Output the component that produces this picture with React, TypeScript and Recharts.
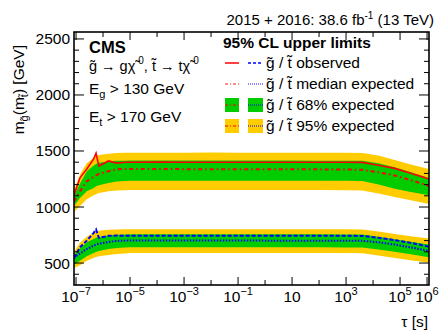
import React from "react";
import { ComposedChart, Area, Line, XAxis, YAxis } from "recharts";

// lifetime grid [s]
const tau = [
  8.4e-8, 1.4e-7, 2.5e-7, 4.5e-7, 5.5e-7, 7e-7, 1.6e-6, 3.2e-6, 6.3e-6, 1e-5,
  1e-4, 1e-3, 1e-2, 0.1, 1, 10, 100, 1000, 4000, 1.6e4, 6.3e4, 2.5e5, 1.18e6,
];

// gluino limits [GeV]
const gluinoObs = [
  1107, 1260, 1340, 1430, 1480, 1366, 1411, 1392, 1400, 1400,
  1401, 1399, 1400, 1400, 1400, 1399, 1400, 1400, 1398, 1372, 1345, 1302, 1250,
];
const gluinoExp = [
  1050, 1140, 1230, 1270, 1282, 1295, 1320, 1337, 1340, 1340,
  1339, 1338, 1338, 1337, 1337, 1336, 1336, 1335, 1332, 1310, 1282, 1240, 1188,
];
const gluinoLo68 = [
  1010, 1080, 1140, 1170, 1185, 1195, 1215, 1228, 1233, 1235,
  1235, 1235, 1235, 1235, 1235, 1234, 1234, 1234, 1232, 1200, 1162, 1135, 1105,
];
const gluinoHi68 = [
  1100, 1210, 1320, 1370, 1385, 1395, 1408, 1412, 1414, 1415,
  1415, 1415, 1415, 1415, 1415, 1415, 1414, 1414, 1412, 1390, 1355, 1310, 1260,
];
const gluinoLo95 = [
  955, 1010, 1070, 1105, 1115, 1125, 1140, 1148, 1150, 1152,
  1152, 1152, 1152, 1152, 1152, 1151, 1151, 1150, 1148, 1120, 1090, 1060, 1027,
];
const gluinoHi95 = [
  1150, 1290, 1390, 1440, 1455, 1465, 1475, 1482, 1484, 1485,
  1485, 1485, 1486, 1485, 1485, 1485, 1485, 1484, 1482, 1460, 1420, 1380, 1340,
];

// stop limits [GeV]
const stopObs = [
  547, 640, 700, 770, 800, 725, 743, 745, 744, 744,
  744, 743, 744, 744, 744, 744, 743, 743, 742, 725, 705, 680, 646,
];
const stopExp = [
  545, 585, 625, 655, 665, 672, 688, 697, 700, 701,
  701, 701, 701, 701, 700, 700, 700, 700, 699, 685, 665, 640, 607,
];
const stopLo68 = [
  482, 520, 560, 590, 598, 607, 625, 635, 638, 640,
  640, 640, 640, 640, 640, 640, 640, 639, 638, 620, 600, 578, 551,
];
const stopHi68 = [
  571, 630, 685, 715, 725, 733, 748, 753, 755, 756,
  756, 756, 756, 756, 756, 756, 756, 755, 754, 735, 712, 690, 665,
];
const stopLo95 = [
  455, 480, 520, 545, 553, 560, 572, 580, 586, 590,
  590, 590, 590, 590, 590, 590, 590, 589, 588, 568, 545, 525, 503,
];
const stopHi95 = [
  601, 680, 735, 770, 780, 788, 797, 800, 801, 802,
  802, 802, 802, 802, 802, 802, 802, 801, 800, 782, 760, 740, 720,
];

const xTicks = [1e-7, 1e-5, 1e-3, 1e-1, 10, 1e3, 1e5, 1e6];
const yTicks = [500, 1000, 1500, 2000, 2500];

const data = tau.map((t, i) => ({
  tau: t,
  gObs: gluinoObs[i],
  gExp: gluinoExp[i],
  g68: [gluinoLo68[i], gluinoHi68[i]],
  g95: [gluinoLo95[i], gluinoHi95[i]],
  sObs: stopObs[i],
  sExp: stopExp[i],
  s68: [stopLo68[i], stopHi68[i]],
  s95: [stopLo95[i], stopHi95[i]],
}));

const W = 441;
const H = 331;
const L = 74;
const R = 429;
const T = 32;
const B = 285;
const X_DOMAIN = [8.4e-8, 1.18e6];
const Y_DOMAIN = [304, 2562];
const FONT = "Liberation Sans, Arial, Helvetica, sans-serif";
const RED = "#ff0000";
const BLUE = "#0000ff";
const GREEN = "#00cc00";
const YELLOW = "#ffcc00";

const xPix = (v: number) => {
  const a = Math.log10(X_DOMAIN[0]);
  const b = Math.log10(X_DOMAIN[1]);
  return L + ((Math.log10(v) - a) / (b - a)) * (R - L);
};
const yPix = (v: number) => B - ((v - Y_DOMAIN[0]) / (Y_DOMAIN[1] - Y_DOMAIN[0])) * (B - T);

const XTick = (props: any) => {
  const { x, payload } = props;
  const e = Math.round(Math.log10(payload.value));
  return (
    <text x={x} y={302} textAnchor="middle" fontSize={15.5} fontFamily={FONT} fill="#000">
      {e === 1 ? (
        "10"
      ) : (
        <>
          10
          <tspan dy={-7} fontSize={11}>
            {e < 0 ? "\u2212" + -e : String(e)}
          </tspan>
        </>
      )}
    </text>
  );
};

const YTick = (props: any) => {
  const { y, payload } = props;
  return (
    <text x={70} y={y + 5.5} textAnchor="end" fontSize={15.5} fontFamily={FONT} fill="#000">
      {payload.value}
    </text>
  );
};

const Frame = () => {
  const decades: number[] = [];
  for (let e = -7; e <= 6; e++) decades.push(e);
  const yMinor: number[] = [];
  for (let v = 400; v <= 2500; v += 100) yMinor.push(v);
  return (
    <svg
      width={W}
      height={H}
      style={{ position: "absolute", left: 0, top: 0, pointerEvents: "none" }}
      fontFamily={FONT}
    >
      <rect x={L} y={T} width={R - L} height={B - T} fill="none" stroke="#000" strokeWidth={1.6} />
      {decades.map((e) => {
        const x = xPix(Math.pow(10, e));
        const len = e % 2 !== 0 || e === 6 ? 8 : 5;
        return (
          <g key={"xt" + e} stroke="#000" strokeWidth={1}>
            <line x1={x} x2={x} y1={B} y2={B - len} />
            <line x1={x} x2={x} y1={T} y2={T + len} />
          </g>
        );
      })}
      {yMinor.map((v) => {
        const y = yPix(v);
        const len = v % 500 === 0 ? 10 : 5;
        return (
          <g key={"yt" + v} stroke="#000" strokeWidth={1}>
            <line x1={L} x2={L + len} y1={y} y2={y} />
            <line x1={R} x2={R - len} y1={y} y2={y} />
          </g>
        );
      })}

      {/* header */}
      <text x={434} y={25} textAnchor="end" fontSize={15}>
        2015 + 2016: 38.6 fb
        <tspan dy={-6} fontSize={10}>
          -1
        </tspan>
        <tspan dy={6}> (13 TeV)</tspan>
      </text>

      {/* axis titles */}
      <text x={428} y={327} textAnchor="end" fontSize={15.5}>
        τ [s]
      </text>
      <text transform="translate(24,45) rotate(-90)" textAnchor="end" fontSize={15.5}>
        m
        <tspan dy={4} fontSize={11}>
          g̃
        </tspan>
        <tspan dy={-4}>(m</tspan>
        <tspan dy={4} fontSize={11}>
          t̃
        </tspan>
        <tspan dy={-4}>) [GeV]</tspan>
      </text>

      {/* CMS label and selections */}
      <text x={89} y={53} fontSize={16.5} fontWeight="bold">
        CMS
      </text>
      <text x={89} y={71} fontSize={14.5}>
        g̃ → gχ̃
        <tspan dx={3} dy={-7} fontSize={10}>
          0
        </tspan>
        <tspan dy={7}>, t̃ → tχ̃</tspan>
        <tspan dx={3} dy={-7} fontSize={10}>
          0
        </tspan>
      </text>
      <text x={89} y={94} fontSize={15.5}>
        E
        <tspan dy={4} fontSize={11}>
          g
        </tspan>
        <tspan dy={-4}> &gt; 130 GeV</tspan>
      </text>
      <text x={89} y={122} fontSize={15.5}>
        E
        <tspan dy={4} fontSize={11}>
          t
        </tspan>
        <tspan dy={-4}> &gt; 170 GeV</tspan>
      </text>

      {/* legend */}
      <text x={223} y={48} fontSize={15.5} fontWeight="bold">
        95% CL upper limits
      </text>
      <line x1={225} x2={239} y1={63} y2={63} stroke={RED} strokeWidth={1.5} />
      <line x1={248} x2={263} y1={63} y2={63} stroke={BLUE} strokeWidth={1.5} strokeDasharray="3 2" />
      <line x1={225} x2={239} y1={84} y2={84} stroke={RED} strokeWidth={1.5} strokeDasharray="3 2 1 2" opacity={0.6} />
      <line x1={248} x2={263} y1={84} y2={84} stroke={BLUE} strokeWidth={1.5} strokeDasharray="1 1" opacity={0.6} />
      <rect x={225} y={98} width={14} height={14} fill={GREEN} />
      <line x1={225} x2={239} y1={105} y2={105} stroke={RED} strokeWidth={1} strokeDasharray="3 2 1 2" />
      <rect x={248} y={98} width={15} height={14} fill={GREEN} />
      <line x1={248} x2={263} y1={105} y2={105} stroke={BLUE} strokeWidth={1} strokeDasharray="1 1" />
      <rect x={225} y={119} width={14} height={14} fill={YELLOW} />
      <line x1={225} x2={239} y1={126} y2={126} stroke={RED} strokeWidth={1} strokeDasharray="3 2 1 2" />
      <rect x={248} y={119} width={15} height={14} fill={YELLOW} />
      <line x1={248} x2={263} y1={126} y2={126} stroke={BLUE} strokeWidth={1} strokeDasharray="1 1" />
      <text x={266} y={68} fontSize={15.5}>
        g̃ / t̃ observed
      </text>
      <text x={266} y={89} fontSize={15.5}>
        g̃ / t̃ median expected
      </text>
      <text x={266} y={110} fontSize={15.5}>
        g̃ / t̃ 68% expected
      </text>
      <text x={266} y={131} fontSize={15.5}>
        g̃ / t̃ 95% expected
      </text>
    </svg>
  );
};

export default function App() {
  return (
    <div style={{ position: "absolute", left: 0, top: 0, width: W, height: H, background: "#fff" }}>
      <ComposedChart width={W} height={H} data={data} margin={{ top: T, right: W - R, bottom: 0, left: 0 }}>
        <XAxis
          dataKey="tau"
          type="number"
          scale="log"
          domain={X_DOMAIN}
          allowDataOverflow
          ticks={xTicks}
          interval={0}
          tick={<XTick />}
          tickLine={false}
          axisLine={false}
          height={H - B}
        />
        <YAxis
          type="number"
          domain={Y_DOMAIN}
          allowDataOverflow
          ticks={yTicks}
          interval={0}
          tick={<YTick />}
          tickLine={false}
          axisLine={false}
          width={L}
        />
        <Area dataKey="g95" type="linear" fill={YELLOW} fillOpacity={1} stroke="none" dot={false} activeDot={false} isAnimationActive={false} />
        <Area dataKey="g68" type="linear" fill={GREEN} fillOpacity={1} stroke="none" dot={false} activeDot={false} isAnimationActive={false} />
        <Area dataKey="s95" type="linear" fill={YELLOW} fillOpacity={1} stroke="none" dot={false} activeDot={false} isAnimationActive={false} />
        <Area dataKey="s68" type="linear" fill={GREEN} fillOpacity={1} stroke="none" dot={false} activeDot={false} isAnimationActive={false} />
        <Line dataKey="gExp" type="linear" stroke={RED} strokeWidth={2} strokeDasharray="4 3 1.5 3" dot={false} activeDot={false} isAnimationActive={false} />
        <Line dataKey="gObs" type="linear" stroke={RED} strokeWidth={1.6} dot={false} activeDot={false} isAnimationActive={false} />
        <Line dataKey="sExp" type="linear" stroke={BLUE} strokeWidth={2} strokeDasharray="1.5 1.5" dot={false} activeDot={false} isAnimationActive={false} />
        <Line dataKey="sObs" type="linear" stroke={BLUE} strokeWidth={2} strokeDasharray="4 2" dot={false} activeDot={false} isAnimationActive={false} />
      </ComposedChart>
      <Frame />
    </div>
  );
}
